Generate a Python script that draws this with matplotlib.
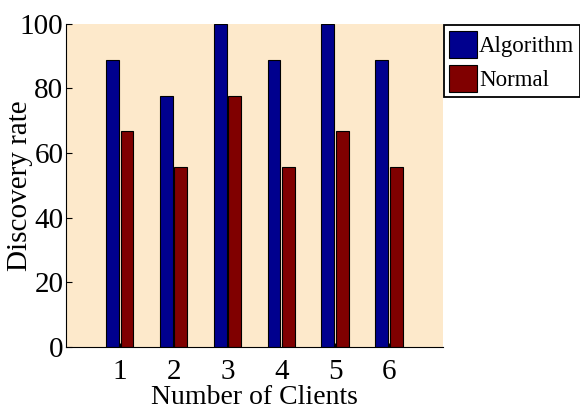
import matplotlib
matplotlib.use("Agg")
import matplotlib.pyplot as plt
import numpy as np

clients = [1, 2, 3, 4, 5, 6]
algorithm = [88.9, 77.8, 100, 88.9, 100, 88.9]
normal = [66.7, 55.6, 77.8, 55.6, 66.7, 55.6]
yticks = [0, 20, 40, 60, 80, 100]

plt.rcParams['font.family'] = ['Liberation Serif', 'DejaVu Serif']

fig = plt.figure(figsize=(5.8, 4.11), dpi=100)
ax = fig.add_axes([0.114, 0.156, 0.650, 0.786])
ax.set_facecolor('#FDE9CB')

x = np.array(clients)
w = 0.24
ax.bar(x - 0.14, algorithm, w, color='#00008E', edgecolor='black', linewidth=0.8, label='Algorithm')
ax.bar(x + 0.13, normal, w, color='#800000', edgecolor='black', linewidth=0.8, label='Normal')

ax.set_xlim(0, 7)
ax.set_ylim(0, 100)
ax.set_xticks(clients)
ax.set_yticks(yticks)
ax.tick_params(axis='both', direction='in', labelsize=21, length=4, width=0.8)
ax.tick_params(axis='y', pad=2)
ax.tick_params(axis='x', length=3, pad=9)
for s in ['top', 'right']:
    ax.spines[s].set_visible(False)
ax.set_xlabel('Number of Clients', fontsize=20, labelpad=0)
ax.set_ylabel('Discovery rate', fontsize=21)
ax.yaxis.set_label_coords(-0.088, 0.5)

leg = fig.legend(loc='upper left', bbox_to_anchor=(0.765, 0.938), fontsize=16.5,
                 frameon=True, fancybox=False, edgecolor='black', framealpha=1,
                 handlelength=1.25, handleheight=1.45, handletextpad=0.08,
                 borderpad=0.22, labelspacing=0.3, borderaxespad=0)
leg.get_frame().set_linewidth(1.3)

fig.savefig('out.png', dpi=100)
